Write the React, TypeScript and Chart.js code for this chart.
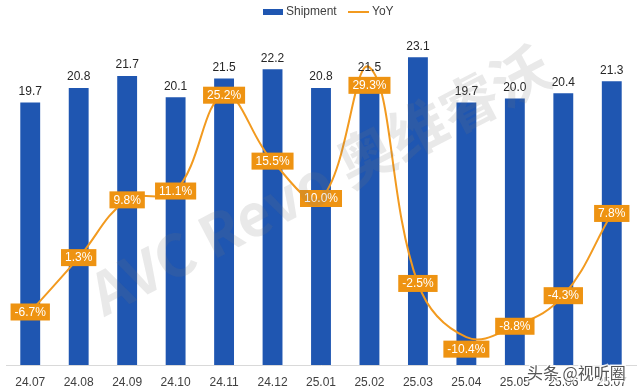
import React, { useEffect, useRef } from 'react';
import { Chart, registerables } from 'chart.js';

Chart.register(...registerables);

const categories = ['24.07', '24.08', '24.09', '24.10', '24.11', '24.12', '25.01', '25.02', '25.03', '25.04', '25.05', '25.06', '25.07'];
const shipment = [19.7, 20.8, 21.7, 20.1, 21.5, 22.2, 20.8, 21.5, 23.1, 19.7, 20.0, 20.4, 21.3];
const yoy = [-6.7, 1.3, 9.8, 11.1, 25.2, 15.5, 10.0, 29.3, -2.5, -10.4, -8.8, -4.3, 7.8];
const seriesNames = ['Shipment', 'YoY'];
const watermarkText = 'AVC Revo 奥维睿沃';
const sourceText = '头条 @视听圈';

const FONT = '"Liberation Sans", Arial, sans-serif';
const CJK = '"Noto Sans CJK SC", "Liberation Sans", sans-serif';
const BLUE = '#1F56B1';
const ORANGE = '#F29A1F';
const ORANGE_BOX = '#EE9312';

const overlayPlugin = {
  id: 'overlay',
  afterDatasetsDraw(chart: any) {
    const ctx = chart.ctx as CanvasRenderingContext2D;
    ctx.save();
    ctx.font = `12px ${FONT}`;
    ctx.textAlign = 'center';
    ctx.textBaseline = 'middle';
    // bar value labels
    const barMeta = chart.getDatasetMeta(0);
    ctx.fillStyle = '#262626';
    barMeta.data.forEach((el: any, i: number) => {
      ctx.fillText(shipment[i].toFixed(1), el.x, el.y - 11);
    });
    // YoY labels
    const lineMeta = chart.getDatasetMeta(1);
    const maxV = Math.max(...yoy);
    const minV = Math.min(...yoy);
    lineMeta.data.forEach((el: any, i: number) => {
      const txt = yoy[i].toFixed(1) + '%';
      const w = ctx.measureText(txt).width + 8;
      const h = 17;
      let y = el.y;
      if (yoy[i] === maxV) y += 18;
      if (yoy[i] === minV) y += 12;
      ctx.fillStyle = ORANGE_BOX;
      ctx.fillRect(el.x - w / 2, y - h / 2, w, h);
      ctx.fillStyle = '#ffffff';
      ctx.fillText(txt, el.x, y + 0.5);
    });
    ctx.restore();
  },
  afterDraw(chart: any) {
    const ctx = chart.ctx as CanvasRenderingContext2D;
    ctx.save();
    // legend
    ctx.font = `12px ${FONT}`;
    ctx.textBaseline = 'middle';
    ctx.textAlign = 'left';
    const ly = 12;
    ctx.fillStyle = BLUE;
    ctx.fillRect(263, ly - 3, 20, 6);
    ctx.fillStyle = '#404040';
    ctx.fillText(seriesNames[0], 286, ly);
    ctx.strokeStyle = ORANGE;
    ctx.lineWidth = 2;
    ctx.beginPath();
    ctx.moveTo(348, ly);
    ctx.lineTo(369, ly);
    ctx.stroke();
    ctx.fillText(seriesNames[1], 372, ly);
    // watermark
    ctx.save();
    ctx.translate(320, 180);
    ctx.rotate(-0.48);
    ctx.globalAlpha = 0.16;
    ctx.fillStyle = '#777';
    ctx.font = `bold 58px ${CJK}`;
    ctx.textAlign = 'center';
    ctx.fillText(watermarkText, 0, 0);
    ctx.restore();
    // source mark
    ctx.font = `16px ${CJK}`;
    ctx.textAlign = 'left';
    ctx.lineWidth = 3;
    ctx.strokeStyle = 'rgba(255,255,255,0.8)';
    ctx.strokeText(sourceText, 527, 373);
    ctx.fillStyle = '#555';
    ctx.fillText(sourceText, 527, 373);
    ctx.restore();
  },
};

export default function App() {
  const ref = useRef<HTMLCanvasElement | null>(null);
  useEffect(() => {
    if (!ref.current) return;
    const chart = new Chart(ref.current, {
      type: 'bar',
      data: {
        labels: categories,
        datasets: [
          {
            type: 'bar',
            label: seriesNames[0],
            data: shipment,
            backgroundColor: BLUE,
            yAxisID: 'y',
            order: 1,
            categoryPercentage: 1,
            barPercentage: 0.41,
          } as any,
          {
            type: 'line',
            label: seriesNames[1],
            data: yoy,
            borderColor: ORANGE,
            borderWidth: 2,
            pointRadius: 0,
            tension: 0.4,
            yAxisID: 'y2',
            order: 0,
          } as any,
        ],
      },
      options: {
        animation: false,
        responsive: true,
        maintainAspectRatio: false,
        layout: { padding: { left: 6, right: 4, top: 32, bottom: 3 } },
        plugins: {
          legend: { display: false },
          tooltip: { enabled: false },
        },
        scales: {
          x: {
            grid: { display: false, drawTicks: false },
            border: { color: '#d9d9d9' },
            ticks: { color: '#404040', font: { family: FONT, size: 12 }, padding: 10 },
            afterFit: (scale: any) => {
              scale.height = 24;
            },
          },
          y: { display: false, min: 0, max: 25 },
          y2: { display: false, min: -14.5, max: 34.5, position: 'right' },
        },
      },
      plugins: [overlayPlugin],
    });
    return () => chart.destroy();
  }, []);
  return (
    <div style={{ position: 'absolute', left: 0, top: 0, width: 640, height: 392, background: '#fff' }}>
      <canvas ref={ref} />
    </div>
  );
}
